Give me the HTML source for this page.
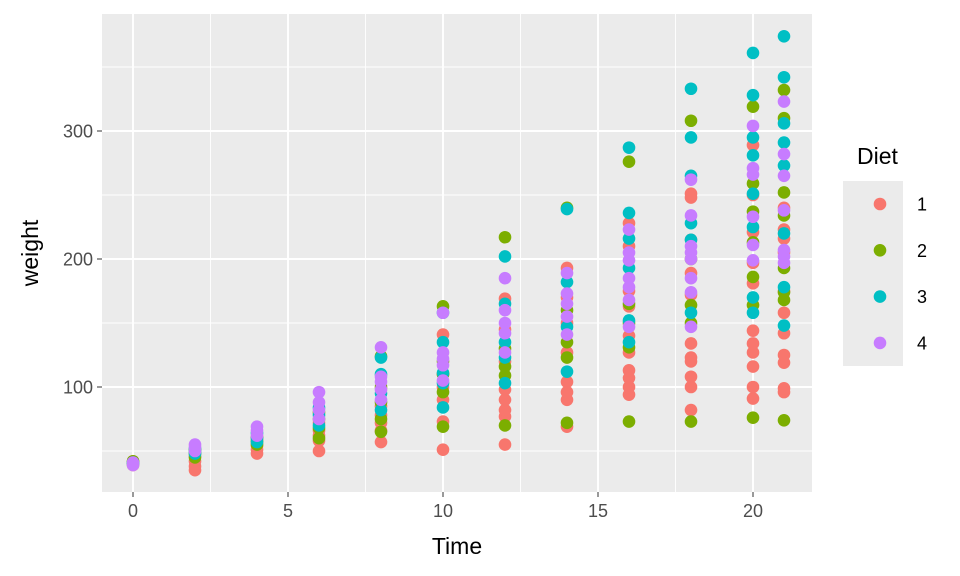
<!DOCTYPE html>
<html><head><meta charset="utf-8"><style>
body{margin:0;background:#fff;font-family:"Liberation Sans",Arial,sans-serif}
svg{display:block}
</style></head><body>
<svg id="chart" width="960" height="576" xmlns="http://www.w3.org/2000/svg" font-family="Liberation Sans, Arial, sans-serif"></svg>
<script>
const xTicks=[0,5,10,15,20];
const yTicks=[100,200,300];
const dietLabels=["1","2","3","4"];
const dietColors=["#F8766D","#7CAE00","#00BFC4","#C77CFF"];
const times=[0,2,4,6,8,10,12,14,16,18,20,21];
const diet1=[[42,41,40,39],[35,38,42,46,50],[48,51,54,57,60],[50,58,62,66,72],[57,66,72,78,85],[51,73,90,100,110,141],[55,77,82,90,98,120,145,169],[69,90,96,104,127,150,170,193],[94,100,107,113,127,140,163,175,210,228],[82,100,108,120,123,134,172,189,215,248,251],[91,100,116,127,134,144,181,197,221,250,289],[96,99,119,125,142,158,175,205,216,223,240]];
const diet2=[[41,42],[45,48,51],[55,58,61],[60,68,75,80],[65,75,88,100,124],[69,96,110,120,163],[70,109,116,130,217],[72,123,135,160,240],[73,131,150,165,276],[73,150,164,200,308],[76,164,186,213,237,259,319],[74,168,174,193,234,252,310,332]];
const diet3=[[41,40],[48,50,52],[57,60,64],[70,78,84],[82,95,110,123],[84,103,111,135,158],[103,123,135,165,202],[112,147,182,239],[135,152,193,216,236,287],[158,215,228,265,295,333],[158,170,225,251,281,295,328,361],[148,178,220,273,291,306,342,374]];
const diet4=[[41,39],[50,53,55],[62,66,69],[75,82,88,96],[90,98,104,108,131],[105,117,122,127,158],[127,142,150,160,185],[141,155,165,173,189],[147,168,178,185,199,205,223],[147,174,185,200,205,210,234,262],[199,211,233,266,271,304],[197,202,207,238,265,282,323]];
const diets=[diet1,diet2,diet3,diet4];

const NS="http://www.w3.org/2000/svg";
const svg=document.getElementById('chart');
const P={l:102,r:812,t:14,b:492};
const X=v=>133+v*31;
const Y=v=>515-v*1.28;
function mk(tag,attrs,parent){const e=document.createElementNS(NS,tag);for(const k in attrs)e.setAttribute(k,attrs[k]);(parent||svg).appendChild(e);return e;}
const panel=mk('rect',{x:P.l,y:P.t,width:P.r-P.l,height:P.b-P.t,fill:'#ebebeb'});


const grid=mk('g',{});


for(let v=2.5;v<=20;v+=5)mk('line',{x1:X(v),x2:X(v),y1:P.t,y2:P.b,stroke:'#fff','stroke-width':0.9},grid);
[50,150,250,350].forEach(v=>mk('line',{x1:P.l,x2:P.r,y1:Y(v),y2:Y(v),stroke:'#fff','stroke-width':0.9},grid));
xTicks.forEach(v=>mk('line',{x1:X(v),x2:X(v),y1:P.t,y2:P.b,stroke:'#fff','stroke-width':1.9},grid));
yTicks.forEach(v=>mk('line',{x1:P.l,x2:P.r,y1:Y(v),y2:Y(v),stroke:'#fff','stroke-width':1.9},grid));
const pts=mk('g',{});


diets.forEach((d,di)=>{d.forEach((ws,ti)=>{ws.forEach(w=>{
 const c=mk('circle',{cx:X(times[ti]),cy:Y(w),r:6.3,fill:dietColors[di]},pts);
 
 
});});});
xTicks.forEach(v=>{
 mk('line',{x1:X(v),x2:X(v),y1:P.b,y2:P.b+5,stroke:'#333','stroke-width':1});
 const t=mk('text',{x:X(v),y:P.b+25,'text-anchor':'middle','font-size':18,fill:'#4d4d4d'});t.textContent=v;
 
 
});
yTicks.forEach(v=>{
 mk('line',{x1:P.l-5,x2:P.l,y1:Y(v),y2:Y(v),stroke:'#333','stroke-width':1});
 const t=mk('text',{x:P.l-9,y:Y(v)+6.5,'text-anchor':'end','font-size':18,fill:'#4d4d4d'});t.textContent=v;
 
 
});
const xt=mk('text',{x:457,y:554,'text-anchor':'middle','font-size':23,fill:'#000'});xt.textContent='Time';


const yt=mk('text',{x:0,y:0,'text-anchor':'middle','font-size':23,fill:'#000',transform:'translate(38,253) rotate(-90)'});yt.textContent='weight';


const lg=mk('g',{});


const lt=mk('text',{x:857,y:164,'font-size':23,fill:'#000'},lg);lt.textContent='Diet';


mk('rect',{x:843,y:181,width:60,height:185,fill:'#ebebeb'},lg);
dietLabels.forEach((lab,i)=>{
 const g=mk('g',{},lg);
 
 
 const cy=204+i*46.3;
 mk('circle',{cx:880,cy:cy,r:6.3,fill:dietColors[i]},g);
 const t=mk('text',{x:917,y:cy+6.5,'font-size':18,fill:'#000'},g);t.textContent=lab;
});
</script>
</body></html>
